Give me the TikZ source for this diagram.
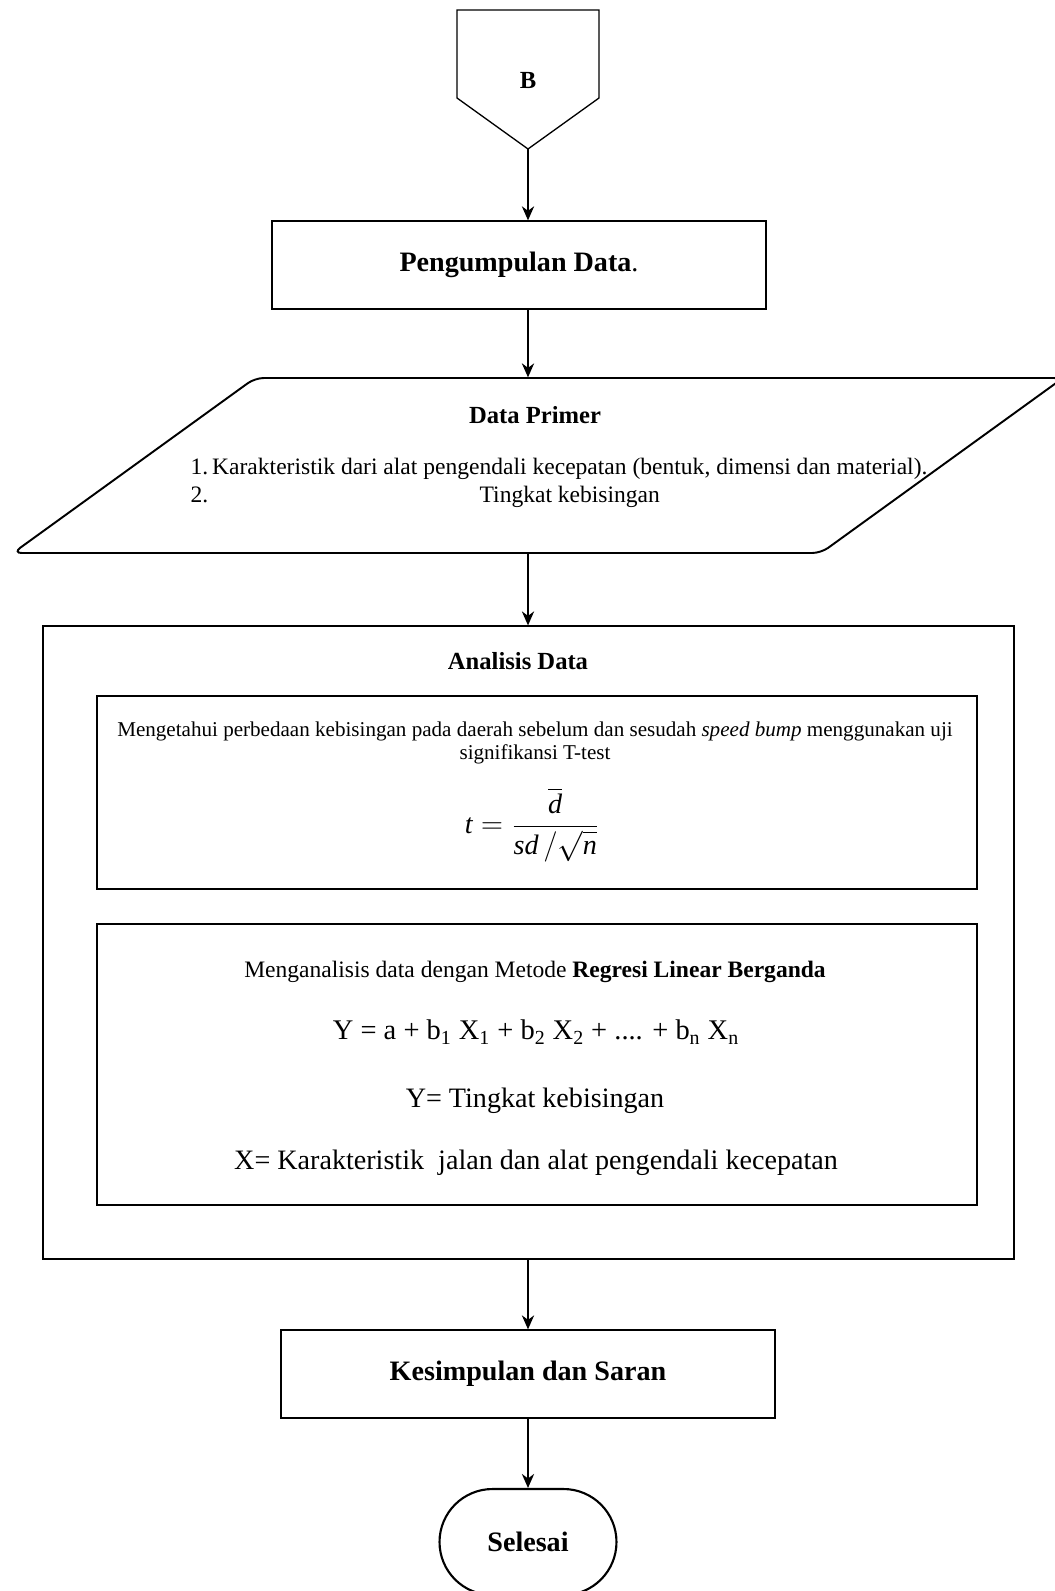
\documentclass[tikz,border=0pt]{standalone}
\usepackage{fontspec}
\setmainfont{Liberation Serif}
\usepackage{amsmath}
\usetikzlibrary{arrows.meta}

\begin{document}
\begin{tikzpicture}[x=0.02cm,y=-0.02cm,->,>={Stealth[length=8pt,width=7pt]},line width=0.75pt,
    box/.style={rectangle,draw,line width=0.75pt,minimum width=9.88cm,minimum height=1.76cm,
                font=\fontsize{16}{19}\selectfont\bfseries},
    panel/.style={rectangle,draw,line width=0.75pt,minimum width=17.6cm},
    stop/.style={rectangle,draw,line width=1.2pt,rounded corners=1.06cm,minimum width=3.54cm,
                 minimum height=2.12cm,font=\fontsize{16}{19}\selectfont\bfseries}]

  \useasboundingbox (0,0) rectangle (1054,1591);

  % off-page connector
  \draw[-] (457,10) -- (599,10) -- (599,98) -- (528,149) -- (457,98) -- cycle;
  \node (B) at (528,80) {\fontsize{14}{16}\selectfont\bfseries B};
  \coordinate (Btip) at (528,149);

  \node[box] (collect) at (519,265) {Pengumpulan Data\textmd{.}};

  % data primer
  \draw[-,line width=1.1pt,rounded corners=5pt] (13,553) -- (255,378) -- (1063,378) -- (821,553) -- cycle;
  \node[minimum width=21cm,minimum height=3.5cm] (primer) at (538,465.5) {};
  \node[font=\fontsize{14}{16}\selectfont\bfseries] (primertitle) at (535,415) {Data Primer};
  \node[font=\fontsize{13.4}{15.5}\selectfont] (primerlist) at (559,483)
    {\begin{tabular}{@{}l@{\,}c@{}}
       1. & Karakteristik dari alat pengendali kecepatan (bentuk, dimensi dan material).\\
       2. & Tingkat kebisingan
     \end{tabular}};

  % analisis
  \node[rectangle,draw,minimum width=19.42cm,minimum height=12.66cm] (analysis) at (528.5,942.5) {};
  \node[font=\fontsize{14}{16}\selectfont\bfseries] (analysistitle) at (518,661) {Analisis Data};

  \node[panel,minimum height=3.86cm] (ttest) at (537,792.5) {};
  \node[font=\fontsize{12}{13.6}\selectfont,align=center] (ttesttext) at (535,743)
    {Mengetahui perbedaan kebisingan pada daerah sebelum dan sesudah \textit{speed bump} menggunakan uji\\
     signifikansi T-test};
  \node[font=\fontsize{16}{19}\selectfont,inner sep=0pt] (ttestformula) at (532,825)
    {$\displaystyle \mathit{t} = \frac{\overline{\mathit{d}}}{\mathit{sd}\,/\sqrt{\mathit{n}}}$};

  \node[panel,minimum height=5.62cm] (regression) at (537,1064.5) {};
  \node[font=\fontsize{13.4}{16}\selectfont] (regressiontext) at (535,972)
    {Menganalisis data dengan Metode \textbf{Regresi Linear Berganda}};
  \node[font=\fontsize{16.2}{19}\selectfont] (regressionformula) at (536,1032)
    {Y = a + b\textsubscript{1} X\textsubscript{1} + b\textsubscript{2} X\textsubscript{2} + .... + b\textsubscript{n} X\textsubscript{n}};
  \node[font=\fontsize{16}{19}\selectfont] (regressiony) at (535,1101) {Y= Tingkat kebisingan};
  \node[font=\fontsize{16}{19}\selectfont] (regressionx) at (536,1163)
    {X= Karakteristik\ \ jalan dan alat pengendali kecepatan};

  \node[box] (conclusion) at (528,1374) {Kesimpulan dan Saran};
  \node[stop] (finish) at (528,1542) {Selesai};

  \draw (Btip) -- (Btip |- collect.north);
  \draw (Btip |- collect.south) -- (Btip |- primer.north);
  \draw (Btip |- primer.south) -- (Btip |- analysis.north);
  \draw (Btip |- analysis.south) -- (Btip |- conclusion.north);
  \draw (conclusion.south) -- (finish.north);
\end{tikzpicture}
\end{document}
